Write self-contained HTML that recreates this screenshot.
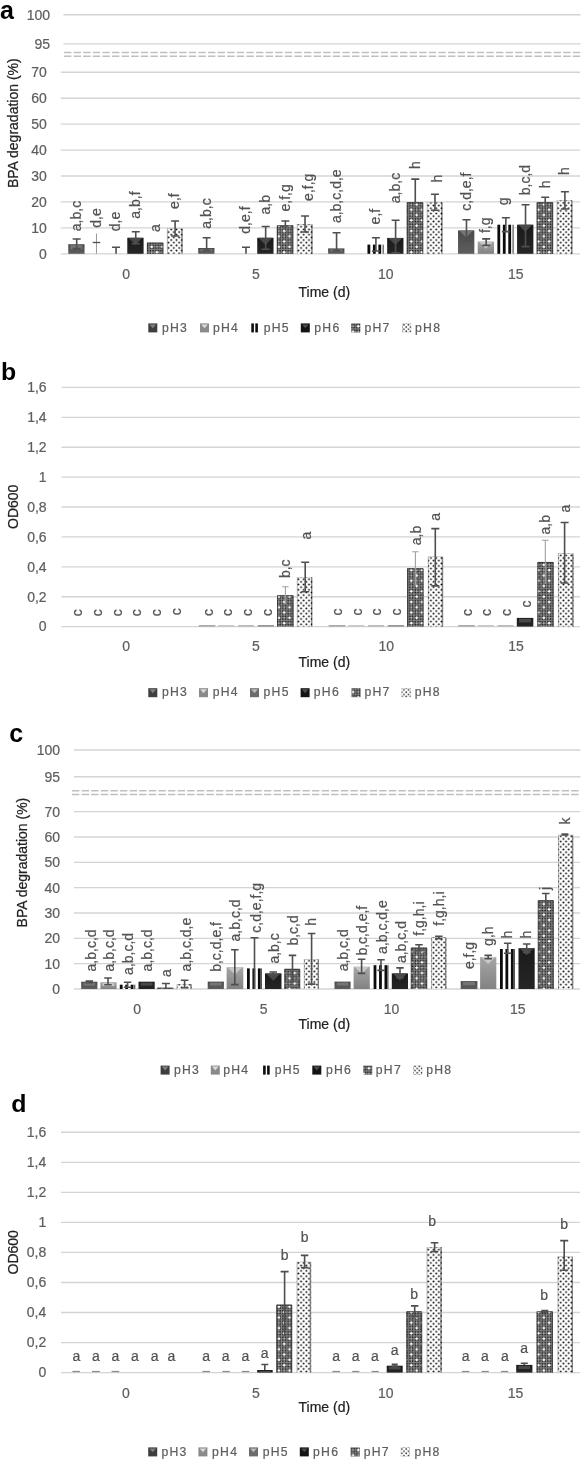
<!DOCTYPE html>
<html lang="en"><head><meta charset="utf-8"><title>BPA degradation and OD600</title>
<style>
html,body{margin:0;padding:0;background:#fff;}
svg{display:block;font-family:"Liberation Sans", sans-serif;filter:grayscale(1);}
</style></head><body>
<svg width="582" height="1461" viewBox="0 0 582 1461">
<rect width="582" height="1461" fill="#fff"/>
<defs>
<linearGradient id="g3" x1="0" y1="0" x2="0" y2="1"><stop offset="0" stop-color="#4a4a4a"/><stop offset="1" stop-color="#5e5e5e"/></linearGradient>
<linearGradient id="g4" x1="0" y1="0" x2="0" y2="1"><stop offset="0" stop-color="#a6a6a6"/><stop offset="1" stop-color="#828282"/></linearGradient>
<linearGradient id="g5" x1="0" y1="0" x2="0" y2="1"><stop offset="0" stop-color="#8a8a8a"/><stop offset="1" stop-color="#6a6a6a"/></linearGradient>
<linearGradient id="g6" x1="0" y1="0" x2="0" y2="1"><stop offset="0" stop-color="#1a1a1a"/><stop offset="1" stop-color="#262626"/></linearGradient>
<pattern id="p7" width="10.6" height="10.6" patternUnits="userSpaceOnUse" x="0.6" y="0.4">
<g fill="#141414"><circle cx="1.32" cy="1.32" r=".8"/><circle cx="3.97" cy="1.32" r=".8"/><circle cx="6.62" cy="1.32" r=".8"/><circle cx="9.27" cy="1.32" r=".8"/><circle cx="1.32" cy="3.97" r=".8"/><circle cx="3.97" cy="3.97" r=".8"/><circle cx="6.62" cy="3.97" r=".8"/><circle cx="9.27" cy="3.97" r=".8"/><circle cx="1.32" cy="6.62" r=".8"/><circle cx="3.97" cy="6.62" r=".8"/><circle cx="6.62" cy="6.62" r=".8"/><circle cx="9.27" cy="6.62" r=".8"/><circle cx="1.32" cy="9.27" r=".8"/><circle cx="3.97" cy="9.27" r=".8"/><circle cx="6.62" cy="9.27" r=".8"/><circle cx="9.27" cy="9.27" r=".8"/></g>
<g fill="#fff"><circle cx="2.65" cy="2.65" r="1.3"/><circle cx="7.95" cy="7.95" r="1.3"/></g>
<g fill="#c4c4c4"><circle cx="7.95" cy="2.65" r=".7"/><circle cx="2.65" cy="7.95" r=".7"/></g>
</pattern>
<pattern id="p8" width="5.3" height="5.3" patternUnits="userSpaceOnUse" x="0.3" y="0.2"><g fill="#000"><circle cx="1.32" cy="1.32" r=".96"/><circle cx="3.97" cy="3.97" r=".96"/></g></pattern>
<pattern id="p7s" width="2.7" height="2.7" patternUnits="userSpaceOnUse"><circle cx="1.35" cy="1.35" r=".7" fill="#e8e8e8"/></pattern>
<pattern id="p8s" width="4.4" height="4.4" patternUnits="userSpaceOnUse" x="0.3" y="0.3"><g fill="#2a2a2a"><circle cx="1.1" cy="1.1" r=".85"/><circle cx="3.3" cy="3.3" r=".85"/></g></pattern>
</defs>
<text x="0" y="19.2" font-size="25" fill="#000" font-weight="bold">a</text>
<line x1="63.5" y1="14.7" x2="580.5" y2="14.7" stroke="#d4d4d4" stroke-width="1.35"/>
<line x1="63.5" y1="43.9" x2="580.5" y2="43.9" stroke="#d4d4d4" stroke-width="1.35"/>
<line x1="64" y1="52.5" x2="580.5" y2="52.5" stroke="#c0c0c0" stroke-width="1.5" stroke-dasharray="7.4 2.2"/>
<line x1="64" y1="56.3" x2="580.5" y2="56.3" stroke="#c0c0c0" stroke-width="1.5" stroke-dasharray="7.4 2.2"/>
<line x1="60.8" y1="253.8" x2="580" y2="253.8" stroke="#d4d4d4" stroke-width="1.35"/>
<text x="46.8" y="258.65" font-size="14.0" fill="#5e5e5e" stroke="#5e5e5e" stroke-width="0.22" text-anchor="end">0</text>
<line x1="60.8" y1="227.87" x2="580" y2="227.87" stroke="#d4d4d4" stroke-width="1.35"/>
<text x="46.8" y="232.72" font-size="14.0" fill="#5e5e5e" stroke="#5e5e5e" stroke-width="0.22" text-anchor="end">10</text>
<line x1="60.8" y1="201.94" x2="580" y2="201.94" stroke="#d4d4d4" stroke-width="1.35"/>
<text x="46.8" y="206.79" font-size="14.0" fill="#5e5e5e" stroke="#5e5e5e" stroke-width="0.22" text-anchor="end">20</text>
<line x1="60.8" y1="176.01" x2="580" y2="176.01" stroke="#d4d4d4" stroke-width="1.35"/>
<text x="46.8" y="180.86" font-size="14.0" fill="#5e5e5e" stroke="#5e5e5e" stroke-width="0.22" text-anchor="end">30</text>
<line x1="60.8" y1="150.08" x2="580" y2="150.08" stroke="#d4d4d4" stroke-width="1.35"/>
<text x="46.8" y="154.93" font-size="14.0" fill="#5e5e5e" stroke="#5e5e5e" stroke-width="0.22" text-anchor="end">40</text>
<line x1="60.8" y1="124.15" x2="580" y2="124.15" stroke="#d4d4d4" stroke-width="1.35"/>
<text x="46.8" y="129.0" font-size="14.0" fill="#5e5e5e" stroke="#5e5e5e" stroke-width="0.22" text-anchor="end">50</text>
<line x1="60.8" y1="98.22" x2="580" y2="98.22" stroke="#d4d4d4" stroke-width="1.35"/>
<text x="46.8" y="103.07" font-size="14.0" fill="#5e5e5e" stroke="#5e5e5e" stroke-width="0.22" text-anchor="end">60</text>
<line x1="60.8" y1="72.29" x2="580" y2="72.29" stroke="#d4d4d4" stroke-width="1.35"/>
<text x="46.8" y="77.14" font-size="14.0" fill="#5e5e5e" stroke="#5e5e5e" stroke-width="0.22" text-anchor="end">70</text>
<text x="50" y="19.5" font-size="14.0" fill="#5e5e5e" stroke="#5e5e5e" stroke-width="0.22" text-anchor="end">100</text>
<text x="50" y="48.5" font-size="14.0" fill="#5e5e5e" stroke="#5e5e5e" stroke-width="0.22" text-anchor="end">95</text>
<text x="18.4" y="123.2" font-size="14.0" fill="#222222" stroke="#222222" stroke-width="0.22" text-anchor="middle" transform="rotate(-90 18.4 123.2)">BPA degradation (%)</text>
<text x="126.2" y="279" font-size="14.0" fill="#5e5e5e" stroke="#5e5e5e" stroke-width="0.22" text-anchor="middle">0</text>
<text x="255.8" y="279" font-size="14.0" fill="#5e5e5e" stroke="#5e5e5e" stroke-width="0.22" text-anchor="middle">5</text>
<text x="385.8" y="279" font-size="14.0" fill="#5e5e5e" stroke="#5e5e5e" stroke-width="0.22" text-anchor="middle">10</text>
<text x="515.8" y="279" font-size="14.0" fill="#5e5e5e" stroke="#5e5e5e" stroke-width="0.22" text-anchor="middle">15</text>
<text x="324.3" y="296.6" font-size="14.0" fill="#222222" stroke="#222222" stroke-width="0.22" text-anchor="middle">Time (d)</text>
<rect x="148.3" y="323.4" width="9" height="9" fill="#3e3e3e"/>
<polygon points="149.5,324.4 156.10000000000002,324.4 152.8,328.34999999999997" fill="#808080"/>
<text x="161.9" y="331.8" font-size="12.2" fill="#5e5e5e" stroke="#5e5e5e" stroke-width="0.22" letter-spacing="1.25">pH3</text>
<rect x="200" y="323.4" width="9" height="9" fill="#8a8a8a"/>
<polygon points="201.2,324.4 207.8,324.4 204.5,328.34999999999997" fill="#dadada"/>
<text x="213.0" y="331.8" font-size="12.2" fill="#5e5e5e" stroke="#5e5e5e" stroke-width="0.22" letter-spacing="1.25">pH4</text>
<rect x="251.29999999999998" y="323.4" width="2.6" height="9" fill="#0c0c0c"/><rect x="255.29999999999998" y="323.4" width="2.6" height="9" fill="#0c0c0c"/>
<text x="263.7" y="331.8" font-size="12.2" fill="#5e5e5e" stroke="#5e5e5e" stroke-width="0.22" letter-spacing="1.25">pH5</text>
<rect x="300.8" y="323.4" width="9" height="9" fill="#141414"/>
<polygon points="302.0,324.4 308.6,324.4 305.3,328.34999999999997" fill="#4c4c4c"/>
<text x="314.3" y="331.8" font-size="12.2" fill="#5e5e5e" stroke="#5e5e5e" stroke-width="0.22" letter-spacing="1.25">pH6</text>
<rect x="351.3" y="323.4" width="9" height="9" fill="#7a7a7a"/><rect x="351.3" y="323.4" width="9" height="9" fill="url(#p7)"/>
<text x="364.5" y="331.8" font-size="12.2" fill="#5e5e5e" stroke="#5e5e5e" stroke-width="0.22" letter-spacing="1.25">pH7</text>
<rect x="402.2" y="323.4" width="9" height="9" fill="#d0d0d0"/><rect x="402.7" y="323.9" width="8" height="8" fill="#fff"/><rect x="402.2" y="323.4" width="9" height="9" fill="url(#p8s)"/>
<text x="415.1" y="331.8" font-size="12.2" fill="#5e5e5e" stroke="#5e5e5e" stroke-width="0.22" letter-spacing="1.25">pH8</text>
<rect x="68.25" y="244.2" width="16.3" height="9.6" fill="url(#g3)"/>
<rect x="70.45" y="245.1" width="11.9" height="4.03" fill="#757575"/>
<path d="M76.7 239V248.6M72.7 239H80.7M72.7 248.6H80.7" stroke="#4f4f4f" stroke-width="1.6" fill="none"/>
<text x="81.03" y="231.2" font-size="14.0" fill="#525252" stroke="#525252" stroke-width="0.22" transform="rotate(-90 81.03 231.2)">a,b,c</text>
<path d="M96.48 233.5V253.8" stroke="#9a9a9a" stroke-width="1"/><path d="M92.67999999999999 242.5H100.28" stroke="#4f4f4f" stroke-width="1.3"/>
<text x="100.71" y="227.7" font-size="14.0" fill="#525252" stroke="#525252" stroke-width="0.22" transform="rotate(-90 100.71 227.7)">d,e</text>
<path d="M116.06 247.2V253.8M112.06 247.2H120.06" stroke="#4f4f4f" stroke-width="1.6" fill="none"/>
<text x="120.39" y="231.2" font-size="14.0" fill="#525252" stroke="#525252" stroke-width="0.22" transform="rotate(-90 120.39 231.2)">d,e</text>
<rect x="127.29" y="237.8" width="16.3" height="16.0" fill="url(#g6)"/>
<polygon points="128.29000000000002,237.8 142.59,237.8 135.44,244.95" fill="#484848"/>
<path d="M135.74 231.8V243.8M131.74 231.8H139.74M131.74 243.8H139.74" stroke="#4f4f4f" stroke-width="1.6" fill="none"/>
<text x="140.07" y="218.7" font-size="14.0" fill="#525252" stroke="#525252" stroke-width="0.22" transform="rotate(-90 140.07 218.7)">a,b,f</text>
<rect x="146.97" y="242.7" width="16.3" height="11.1" fill="#7e7e7e"/>
<rect x="146.97" y="242.7" width="16.3" height="11.1" fill="url(#p7)"/>
<path d="M147.37 253.8V243.1H162.87V253.8" fill="none" stroke="#2e2e2e" stroke-width="0.8"/>
<text x="159.75" y="231.9" font-size="14.0" fill="#525252" stroke="#525252" stroke-width="0.22" transform="rotate(-90 159.75 231.9)">a</text>
<rect x="166.85" y="228.3" width="15.8" height="25.5" fill="#b4b4b4"/>
<rect x="167.85" y="228.8" width="13.5" height="25.0" fill="#fff"/>
<rect x="181.35" y="228.8" width="1.3" height="25.0" fill="#8e8e8e"/>
<rect x="167.15" y="228.5" width="15.5" height="25.3" fill="url(#p8)"/>
<path d="M175.10000000000002 221V236M171.10000000000002 221H179.10000000000002M171.10000000000002 236H179.10000000000002" stroke="#4f4f4f" stroke-width="1.6" fill="none"/>
<text x="179.43" y="208.9" font-size="14.0" fill="#525252" stroke="#525252" stroke-width="0.22" transform="rotate(-90 179.43 208.9)">e,f</text>
<rect x="198.18" y="248" width="16.3" height="5.8" fill="url(#g3)"/>
<rect x="200.38" y="248.9" width="11.9" height="2.44" fill="#757575"/>
<path d="M206.63000000000002 237.8V250.4M202.63000000000002 237.8H210.63000000000002M202.63000000000002 250.4H210.63000000000002" stroke="#4f4f4f" stroke-width="1.6" fill="none"/>
<text x="210.96" y="228.7" font-size="14.0" fill="#525252" stroke="#525252" stroke-width="0.22" transform="rotate(-90 210.96 228.7)">a,b,c</text>
<path d="M245.99 247.2V253.8M241.99 247.2H249.99" stroke="#4f4f4f" stroke-width="1.6" fill="none"/>
<text x="250.32" y="233.7" font-size="14.0" fill="#525252" stroke="#525252" stroke-width="0.22" transform="rotate(-90 250.32 233.7)">d,e,f</text>
<rect x="257.22" y="237.8" width="16.3" height="16.0" fill="url(#g6)"/>
<polygon points="258.22,237.8 272.52,237.8 265.37,244.95" fill="#484848"/>
<path d="M265.67 226.5V249.3M261.67 226.5H269.67M261.67 249.3H269.67" stroke="#4f4f4f" stroke-width="1.6" fill="none"/>
<text x="270.0" y="214.5" font-size="14.0" fill="#525252" stroke="#525252" stroke-width="0.22" transform="rotate(-90 270.0 214.5)">a,b</text>
<rect x="276.9" y="225.3" width="16.3" height="28.5" fill="#7e7e7e"/>
<rect x="276.9" y="225.3" width="16.3" height="28.5" fill="url(#p7)"/>
<path d="M277.3 253.8V225.7H292.8V253.8" fill="none" stroke="#2e2e2e" stroke-width="0.8"/>
<path d="M285.35 221V229.6M281.35 221H289.35" stroke="#4f4f4f" stroke-width="1.6" fill="none"/>
<text x="289.68" y="211.5" font-size="14.0" fill="#525252" stroke="#525252" stroke-width="0.22" transform="rotate(-90 289.68 211.5)">e,f,g</text>
<rect x="296.78" y="224.1" width="15.8" height="29.7" fill="#b4b4b4"/>
<rect x="297.78" y="224.6" width="13.5" height="29.2" fill="#fff"/>
<rect x="311.28" y="224.6" width="1.3" height="29.2" fill="#8e8e8e"/>
<rect x="297.08" y="224.3" width="15.5" height="29.5" fill="url(#p8)"/>
<path d="M305.03000000000003 216V232M301.03000000000003 216H309.03000000000003M301.03000000000003 232H309.03000000000003" stroke="#4f4f4f" stroke-width="1.6" fill="none"/>
<text x="312.86" y="200.9" font-size="14.0" fill="#525252" stroke="#525252" stroke-width="0.22" transform="rotate(-90 312.86 200.9)">e,f,g</text>
<rect x="328.11" y="248.4" width="16.3" height="5.4" fill="url(#g3)"/>
<rect x="330.31" y="249.3" width="11.9" height="2.27" fill="#757575"/>
<path d="M336.56 232.7V250.6M332.56 232.7H340.56M332.56 250.6H340.56" stroke="#4f4f4f" stroke-width="1.6" fill="none"/>
<text x="340.89" y="223.1" font-size="14.0" fill="#525252" stroke="#525252" stroke-width="0.22" transform="rotate(-90 340.89 223.1)">a,b,c,d,e</text>
<rect x="367.47" y="244.6" width="16.3" height="9.2" fill="#fff"/>
<rect x="367.47" y="244.6" width="2.8" height="9.2" fill="#0c0c0c"/>
<rect x="372.92" y="244.6" width="2.8" height="9.2" fill="#0c0c0c"/>
<rect x="378.37" y="244.6" width="2.8" height="9.2" fill="#0c0c0c"/>
<rect x="382.57" y="244.6" width="1.2" height="9.2" fill="#555"/>
<path d="M375.92 237.7V251M371.92 237.7H379.92M371.92 251H379.92" stroke="#4f4f4f" stroke-width="1.6" fill="none"/>
<text x="380.25" y="224.4" font-size="14.0" fill="#525252" stroke="#525252" stroke-width="0.22" transform="rotate(-90 380.25 224.4)">e,f</text>
<rect x="387.15" y="237.9" width="16.3" height="15.9" fill="url(#g6)"/>
<polygon points="388.15,237.9 402.45,237.9 395.29999999999995,245.05" fill="#484848"/>
<path d="M395.6 220.2V252.8M391.6 220.2H399.6M391.6 252.8H399.6" stroke="#4f4f4f" stroke-width="1.6" fill="none"/>
<text x="399.93" y="203.2" font-size="14.0" fill="#525252" stroke="#525252" stroke-width="0.22" transform="rotate(-90 399.93 203.2)">a,b,c</text>
<rect x="406.83" y="202.3" width="16.3" height="51.5" fill="#7e7e7e"/>
<rect x="406.83" y="202.3" width="16.3" height="51.5" fill="url(#p7)"/>
<path d="M407.23 253.8V202.7H422.73V253.8" fill="none" stroke="#2e2e2e" stroke-width="0.8"/>
<path d="M415.28000000000003 179.1V203.8M411.28000000000003 179.1H419.28000000000003" stroke="#4f4f4f" stroke-width="1.6" fill="none"/>
<text x="419.61" y="168.9" font-size="14.0" fill="#525252" stroke="#525252" stroke-width="0.22" transform="rotate(-90 419.61 168.9)">h</text>
<rect x="426.71" y="202.1" width="15.8" height="51.7" fill="#b4b4b4"/>
<rect x="427.71" y="202.6" width="13.5" height="51.2" fill="#fff"/>
<rect x="441.21" y="202.6" width="1.3" height="51.2" fill="#8e8e8e"/>
<rect x="427.01" y="202.3" width="15.5" height="51.5" fill="url(#p8)"/>
<path d="M434.96000000000004 194.3V210.3M430.96000000000004 194.3H438.96000000000004M430.96000000000004 210.3H438.96000000000004" stroke="#4f4f4f" stroke-width="1.6" fill="none"/>
<text x="441.79" y="182.5" font-size="14.0" fill="#525252" stroke="#525252" stroke-width="0.22" transform="rotate(-90 441.79 182.5)">h</text>
<rect x="458.04" y="230.4" width="16.3" height="23.4" fill="url(#g3)"/>
<polygon points="459.04,230.4 473.34,230.4 466.19,237.54999999999998" fill="#757575"/>
<path d="M466.49 219.7V241M462.49 219.7H470.49M462.49 241H470.49" stroke="#4f4f4f" stroke-width="1.6" fill="none"/>
<text x="470.82" y="210.7" font-size="14.0" fill="#525252" stroke="#525252" stroke-width="0.22" transform="rotate(-90 470.82 210.7)">c,d,e,f</text>
<rect x="477.72" y="241.6" width="16.3" height="12.2" fill="url(#g4)"/>
<polygon points="478.72,241.6 493.02,241.6 485.87,248.74999999999997" fill="#c9c9c9"/>
<path d="M486.17 238.9V245.4M482.17 238.9H490.17M482.17 245.4H490.17" stroke="#4f4f4f" stroke-width="1.6" fill="none"/>
<text x="490.5" y="233.1" font-size="14.0" fill="#525252" stroke="#525252" stroke-width="0.22" transform="rotate(-90 490.5 233.1)">f,g</text>
<rect x="497.4" y="224.7" width="16.3" height="29.1" fill="#fff"/>
<rect x="497.4" y="224.7" width="2.8" height="29.1" fill="#0c0c0c"/>
<rect x="502.85" y="224.7" width="2.8" height="29.1" fill="#0c0c0c"/>
<rect x="508.3" y="224.7" width="2.8" height="29.1" fill="#0c0c0c"/>
<rect x="512.5" y="224.7" width="1.2" height="29.1" fill="#555"/>
<path d="M505.85 217.7V231.6M501.85 217.7H509.85M501.85 231.6H509.85" stroke="#4f4f4f" stroke-width="1.6" fill="none"/>
<text x="508.18" y="205.2" font-size="14.0" fill="#525252" stroke="#525252" stroke-width="0.22" transform="rotate(-90 508.18 205.2)">g</text>
<rect x="517.08" y="224.7" width="16.3" height="29.1" fill="url(#g6)"/>
<polygon points="518.08,224.7 532.38,224.7 525.23,231.84999999999997" fill="#484848"/>
<path d="M525.53 204.8V246.6M521.53 204.8H529.53M521.53 246.6H529.53" stroke="#4f4f4f" stroke-width="1.6" fill="none"/>
<text x="529.86" y="195.2" font-size="14.0" fill="#525252" stroke="#525252" stroke-width="0.22" transform="rotate(-90 529.86 195.2)">b,c,d</text>
<rect x="536.76" y="202.3" width="16.3" height="51.5" fill="#7e7e7e"/>
<rect x="536.76" y="202.3" width="16.3" height="51.5" fill="url(#p7)"/>
<path d="M537.16 253.8V202.7H552.66V253.8" fill="none" stroke="#2e2e2e" stroke-width="0.8"/>
<path d="M545.2099999999999 197.3V207.3M541.2099999999999 197.3H549.2099999999999" stroke="#4f4f4f" stroke-width="1.6" fill="none"/>
<text x="549.54" y="188.2" font-size="14.0" fill="#525252" stroke="#525252" stroke-width="0.22" transform="rotate(-90 549.54 188.2)">h</text>
<rect x="556.64" y="200.3" width="15.8" height="53.5" fill="#b4b4b4"/>
<rect x="557.64" y="200.8" width="13.5" height="53.0" fill="#fff"/>
<rect x="571.14" y="200.8" width="1.3" height="53.0" fill="#8e8e8e"/>
<rect x="556.94" y="200.5" width="15.5" height="53.3" fill="url(#p8)"/>
<path d="M564.89 191.8V209M560.89 191.8H568.89M560.89 209H568.89" stroke="#4f4f4f" stroke-width="1.6" fill="none"/>
<text x="569.22" y="175.0" font-size="14.0" fill="#525252" stroke="#525252" stroke-width="0.22" transform="rotate(-90 569.22 175.0)">h</text>
<text x="1.1" y="380.2" font-size="23.5" fill="#000" font-weight="bold" textLength="15.2" lengthAdjust="spacingAndGlyphs">b</text>
<line x1="61.5" y1="626.6" x2="580" y2="626.6" stroke="#d4d4d4" stroke-width="1.35"/>
<text x="46.6" y="631.45" font-size="14.0" fill="#5e5e5e" stroke="#5e5e5e" stroke-width="0.22" text-anchor="end">0</text>
<line x1="61.5" y1="596.7" x2="580" y2="596.7" stroke="#d4d4d4" stroke-width="1.35"/>
<text x="46.6" y="601.55" font-size="14.0" fill="#5e5e5e" stroke="#5e5e5e" stroke-width="0.22" text-anchor="end">0,2</text>
<line x1="61.5" y1="566.8" x2="580" y2="566.8" stroke="#d4d4d4" stroke-width="1.35"/>
<text x="46.6" y="571.65" font-size="14.0" fill="#5e5e5e" stroke="#5e5e5e" stroke-width="0.22" text-anchor="end">0,4</text>
<line x1="61.5" y1="536.9" x2="580" y2="536.9" stroke="#d4d4d4" stroke-width="1.35"/>
<text x="46.6" y="541.75" font-size="14.0" fill="#5e5e5e" stroke="#5e5e5e" stroke-width="0.22" text-anchor="end">0,6</text>
<line x1="61.5" y1="507.0" x2="580" y2="507.0" stroke="#d4d4d4" stroke-width="1.35"/>
<text x="46.6" y="511.85" font-size="14.0" fill="#5e5e5e" stroke="#5e5e5e" stroke-width="0.22" text-anchor="end">0,8</text>
<line x1="61.5" y1="477.1" x2="580" y2="477.1" stroke="#d4d4d4" stroke-width="1.35"/>
<text x="46.6" y="481.95" font-size="14.0" fill="#5e5e5e" stroke="#5e5e5e" stroke-width="0.22" text-anchor="end">1</text>
<line x1="61.5" y1="447.2" x2="580" y2="447.2" stroke="#d4d4d4" stroke-width="1.35"/>
<text x="46.6" y="452.05" font-size="14.0" fill="#5e5e5e" stroke="#5e5e5e" stroke-width="0.22" text-anchor="end">1,2</text>
<line x1="61.5" y1="417.3" x2="580" y2="417.3" stroke="#d4d4d4" stroke-width="1.35"/>
<text x="46.6" y="422.15" font-size="14.0" fill="#5e5e5e" stroke="#5e5e5e" stroke-width="0.22" text-anchor="end">1,4</text>
<line x1="61.5" y1="387.4" x2="580" y2="387.4" stroke="#d4d4d4" stroke-width="1.35"/>
<text x="46.6" y="392.25" font-size="14.0" fill="#5e5e5e" stroke="#5e5e5e" stroke-width="0.22" text-anchor="end">1,6</text>
<text x="18.4" y="506.8" font-size="14.0" fill="#222222" stroke="#222222" stroke-width="0.22" text-anchor="middle" transform="rotate(-90 18.4 506.8)">OD600</text>
<text x="126.2" y="651" font-size="14.0" fill="#5e5e5e" stroke="#5e5e5e" stroke-width="0.22" text-anchor="middle">0</text>
<text x="255.8" y="651" font-size="14.0" fill="#5e5e5e" stroke="#5e5e5e" stroke-width="0.22" text-anchor="middle">5</text>
<text x="386.2" y="651" font-size="14.0" fill="#5e5e5e" stroke="#5e5e5e" stroke-width="0.22" text-anchor="middle">10</text>
<text x="516" y="651" font-size="14.0" fill="#5e5e5e" stroke="#5e5e5e" stroke-width="0.22" text-anchor="middle">15</text>
<text x="324.3" y="667.0" font-size="14.0" fill="#222222" stroke="#222222" stroke-width="0.22" text-anchor="middle">Time (d)</text>
<rect x="148.3" y="688.2" width="9" height="9" fill="#3e3e3e"/>
<polygon points="149.5,689.2 156.10000000000002,689.2 152.8,693.1500000000001" fill="#808080"/>
<text x="161.9" y="696.3" font-size="12.2" fill="#5e5e5e" stroke="#5e5e5e" stroke-width="0.22" letter-spacing="1.25">pH3</text>
<rect x="199" y="688.2" width="9" height="9" fill="#8a8a8a"/>
<polygon points="200.2,689.2 206.8,689.2 203.5,693.1500000000001" fill="#dadada"/>
<text x="212.7" y="696.3" font-size="12.2" fill="#5e5e5e" stroke="#5e5e5e" stroke-width="0.22" letter-spacing="1.25">pH4</text>
<rect x="250" y="688.2" width="9" height="9" fill="#6c6c6c"/>
<polygon points="251.2,689.2 257.8,689.2 254.5,693.1500000000001" fill="#bcbcbc"/>
<text x="263.6" y="696.3" font-size="12.2" fill="#5e5e5e" stroke="#5e5e5e" stroke-width="0.22" letter-spacing="1.25">pH5</text>
<rect x="300.6" y="688.2" width="9" height="9" fill="#141414"/>
<polygon points="301.8,689.2 308.40000000000003,689.2 305.1,693.1500000000001" fill="#4c4c4c"/>
<text x="313.8" y="696.3" font-size="12.2" fill="#5e5e5e" stroke="#5e5e5e" stroke-width="0.22" letter-spacing="1.25">pH6</text>
<rect x="351.6" y="688.2" width="9" height="9" fill="#7a7a7a"/><rect x="351.6" y="688.2" width="9" height="9" fill="url(#p7)"/>
<text x="364.4" y="696.3" font-size="12.2" fill="#5e5e5e" stroke="#5e5e5e" stroke-width="0.22" letter-spacing="1.25">pH7</text>
<rect x="401.6" y="688.2" width="9" height="9" fill="#d0d0d0"/><rect x="402.1" y="688.7" width="8" height="8" fill="#fff"/><rect x="401.6" y="688.2" width="9" height="9" fill="url(#p8s)"/>
<text x="414.7" y="696.3" font-size="12.2" fill="#5e5e5e" stroke="#5e5e5e" stroke-width="0.22" letter-spacing="1.25">pH8</text>
<text x="82.33" y="616.2" font-size="14.0" fill="#525252" stroke="#525252" stroke-width="0.22" transform="rotate(-90 82.33 616.2)">c</text>
<text x="102.23" y="616.2" font-size="14.0" fill="#525252" stroke="#525252" stroke-width="0.22" transform="rotate(-90 102.23 616.2)">c</text>
<text x="121.63" y="616.2" font-size="14.0" fill="#525252" stroke="#525252" stroke-width="0.22" transform="rotate(-90 121.63 616.2)">c</text>
<text x="141.33" y="616.2" font-size="14.0" fill="#525252" stroke="#525252" stroke-width="0.22" transform="rotate(-90 141.33 616.2)">c</text>
<text x="160.73" y="616.2" font-size="14.0" fill="#525252" stroke="#525252" stroke-width="0.22" transform="rotate(-90 160.73 616.2)">c</text>
<text x="180.63" y="615.2" font-size="14.0" fill="#525252" stroke="#525252" stroke-width="0.22" transform="rotate(-90 180.63 615.2)">c</text>
<rect x="198.7" y="625.1" width="16.7" height="1.5" fill="#a2a2a2"/>
<rect x="218.1" y="625.1" width="16.2" height="1.5" fill="#c4c4c4"/>
<rect x="238.1" y="625.1" width="15.9" height="1.5" fill="#b4b4b4"/>
<rect x="257.7" y="625.1" width="16.3" height="1.5" fill="#8c8c8c"/>
<rect x="328.7" y="625.1" width="16.7" height="1.5" fill="#a2a2a2"/>
<rect x="348.1" y="625.1" width="16.2" height="1.5" fill="#c4c4c4"/>
<rect x="368.1" y="625.1" width="15.9" height="1.5" fill="#b4b4b4"/>
<rect x="387.7" y="625.1" width="16.3" height="1.5" fill="#8c8c8c"/>
<rect x="458.2" y="625.1" width="16.7" height="1.5" fill="#a2a2a2"/>
<rect x="477.6" y="625.1" width="16.2" height="1.5" fill="#c4c4c4"/>
<rect x="497.5" y="625.1" width="16.0" height="1.5" fill="#b4b4b4"/>
<text x="212.83" y="616.0" font-size="14.0" fill="#525252" stroke="#525252" stroke-width="0.22" transform="rotate(-90 212.83 616.0)">c</text>
<text x="232.23" y="616.0" font-size="14.0" fill="#525252" stroke="#525252" stroke-width="0.22" transform="rotate(-90 232.23 616.0)">c</text>
<text x="251.63" y="616.0" font-size="14.0" fill="#525252" stroke="#525252" stroke-width="0.22" transform="rotate(-90 251.63 616.0)">c</text>
<text x="271.63" y="616.0" font-size="14.0" fill="#525252" stroke="#525252" stroke-width="0.22" transform="rotate(-90 271.63 616.0)">c</text>
<text x="342.33" y="615.5" font-size="14.0" fill="#525252" stroke="#525252" stroke-width="0.22" transform="rotate(-90 342.33 615.5)">c</text>
<text x="361.63" y="615.5" font-size="14.0" fill="#525252" stroke="#525252" stroke-width="0.22" transform="rotate(-90 361.63 615.5)">c</text>
<text x="381.43" y="615.5" font-size="14.0" fill="#525252" stroke="#525252" stroke-width="0.22" transform="rotate(-90 381.43 615.5)">c</text>
<text x="401.33" y="615.5" font-size="14.0" fill="#525252" stroke="#525252" stroke-width="0.22" transform="rotate(-90 401.33 615.5)">c</text>
<text x="471.73" y="615.9" font-size="14.0" fill="#525252" stroke="#525252" stroke-width="0.22" transform="rotate(-90 471.73 615.9)">c</text>
<text x="491.23" y="615.9" font-size="14.0" fill="#525252" stroke="#525252" stroke-width="0.22" transform="rotate(-90 491.23 615.9)">c</text>
<text x="511.13" y="615.9" font-size="14.0" fill="#525252" stroke="#525252" stroke-width="0.22" transform="rotate(-90 511.13 615.9)">c</text>
<text x="530.83" y="607.5" font-size="14.0" fill="#525252" stroke="#525252" stroke-width="0.22" transform="rotate(-90 530.83 607.5)">c</text>
<rect x="277.2" y="595.4" width="16.2" height="31.2" fill="#7e7e7e"/>
<rect x="277.2" y="595.4" width="16.2" height="31.2" fill="url(#p7)"/>
<path d="M277.6 626.6V595.8H293.0V626.6" fill="none" stroke="#2e2e2e" stroke-width="0.8"/>
<path d="M285.4 586.7V604.1M282.15 586.7H288.65" stroke="#a0a0a0" stroke-width="1.1" fill="none"/>
<text x="289.63" y="578.1" font-size="14.0" fill="#525252" stroke="#525252" stroke-width="0.22" transform="rotate(-90 289.63 578.1)">b,c</text>
<rect x="296.8" y="577.0" width="15.5" height="49.6" fill="#b4b4b4"/>
<rect x="297.8" y="577.5" width="13.2" height="49.1" fill="#fff"/>
<rect x="311.0" y="577.5" width="1.3" height="49.1" fill="#8e8e8e"/>
<rect x="297.1" y="577.2" width="15.2" height="49.4" fill="url(#p8)"/>
<path d="M305.2 562.3V591.7M301.2 562.3H309.2M301.2 591.7H309.2" stroke="#4f4f4f" stroke-width="1.6" fill="none"/>
<text x="310.63" y="539.5" font-size="14.0" fill="#525252" stroke="#525252" stroke-width="0.22" transform="rotate(-90 310.63 539.5)">a</text>
<rect x="407.2" y="568.4" width="16.2" height="58.2" fill="#7e7e7e"/>
<rect x="407.2" y="568.4" width="16.2" height="58.2" fill="url(#p7)"/>
<path d="M407.6 626.6V568.8H423.0V626.6" fill="none" stroke="#2e2e2e" stroke-width="0.8"/>
<path d="M415.4 551.7V585M412.15 551.7H418.65" stroke="#a0a0a0" stroke-width="1.1" fill="none"/>
<text x="420.63" y="545.2" font-size="14.0" fill="#525252" stroke="#525252" stroke-width="0.22" transform="rotate(-90 420.63 545.2)">a,b</text>
<rect x="427.8" y="556.5" width="15.3" height="70.1" fill="#b4b4b4"/>
<rect x="428.8" y="557.0" width="13.0" height="69.6" fill="#fff"/>
<rect x="441.8" y="557.0" width="1.3" height="69.6" fill="#8e8e8e"/>
<rect x="428.1" y="556.7" width="15.0" height="69.9" fill="url(#p8)"/>
<path d="M435.3 528.6V585.9M431.3 528.6H439.3M431.3 585.9H439.3" stroke="#4f4f4f" stroke-width="1.6" fill="none"/>
<text x="440.23" y="520.8" font-size="14.0" fill="#525252" stroke="#525252" stroke-width="0.22" transform="rotate(-90 440.23 520.8)">a</text>
<rect x="516.8" y="617.9" width="16.5" height="8.7" fill="url(#g6)"/>
<rect x="519.0" y="618.8" width="12.1" height="3.65" fill="#484848"/>
<rect x="537.5" y="562" width="16.0" height="64.6" fill="#7e7e7e"/>
<rect x="537.5" y="562" width="16.0" height="64.6" fill="url(#p7)"/>
<path d="M537.9 626.6V562.4H553.1V626.6" fill="none" stroke="#2e2e2e" stroke-width="0.8"/>
<path d="M545.3 540.2V584M542.05 540.2H548.55" stroke="#a0a0a0" stroke-width="1.1" fill="none"/>
<text x="550.23" y="534.5" font-size="14.0" fill="#525252" stroke="#525252" stroke-width="0.22" transform="rotate(-90 550.23 534.5)">a,b</text>
<rect x="557.9" y="553.3" width="15.6" height="73.3" fill="#b4b4b4"/>
<rect x="558.9" y="553.8" width="13.3" height="72.8" fill="#fff"/>
<rect x="572.2" y="553.8" width="1.3" height="72.8" fill="#8e8e8e"/>
<rect x="558.2" y="553.5" width="15.3" height="73.1" fill="url(#p8)"/>
<path d="M564.6 522.5V583M560.6 522.5H568.6M560.6 583H568.6" stroke="#4f4f4f" stroke-width="1.6" fill="none"/>
<text x="570.13" y="512.4" font-size="14.0" fill="#525252" stroke="#525252" stroke-width="0.22" transform="rotate(-90 570.13 512.4)">a</text>
<text x="9.2" y="741.5" font-size="25" fill="#000" font-weight="bold">c</text>
<line x1="74" y1="750" x2="580.5" y2="750" stroke="#d4d4d4" stroke-width="1.35"/>
<line x1="74" y1="776.7" x2="580.5" y2="776.7" stroke="#d4d4d4" stroke-width="1.35"/>
<line x1="72" y1="790.7" x2="580.5" y2="790.7" stroke="#c0c0c0" stroke-width="1.5" stroke-dasharray="7.4 2.2"/>
<line x1="72" y1="794.4" x2="580.5" y2="794.4" stroke="#c0c0c0" stroke-width="1.5" stroke-dasharray="7.4 2.2"/>
<line x1="74" y1="989.0" x2="580" y2="989.0" stroke="#d4d4d4" stroke-width="1.35"/>
<text x="60" y="993.85" font-size="14.0" fill="#5e5e5e" stroke="#5e5e5e" stroke-width="0.22" text-anchor="end">0</text>
<line x1="74" y1="963.67" x2="580" y2="963.67" stroke="#d4d4d4" stroke-width="1.35"/>
<text x="60" y="968.52" font-size="14.0" fill="#5e5e5e" stroke="#5e5e5e" stroke-width="0.22" text-anchor="end">10</text>
<line x1="74" y1="938.34" x2="580" y2="938.34" stroke="#d4d4d4" stroke-width="1.35"/>
<text x="60" y="943.19" font-size="14.0" fill="#5e5e5e" stroke="#5e5e5e" stroke-width="0.22" text-anchor="end">20</text>
<line x1="74" y1="913.01" x2="580" y2="913.01" stroke="#d4d4d4" stroke-width="1.35"/>
<text x="60" y="917.86" font-size="14.0" fill="#5e5e5e" stroke="#5e5e5e" stroke-width="0.22" text-anchor="end">30</text>
<line x1="74" y1="887.68" x2="580" y2="887.68" stroke="#d4d4d4" stroke-width="1.35"/>
<text x="60" y="892.53" font-size="14.0" fill="#5e5e5e" stroke="#5e5e5e" stroke-width="0.22" text-anchor="end">40</text>
<line x1="74" y1="862.35" x2="580" y2="862.35" stroke="#d4d4d4" stroke-width="1.35"/>
<text x="60" y="867.2" font-size="14.0" fill="#5e5e5e" stroke="#5e5e5e" stroke-width="0.22" text-anchor="end">50</text>
<line x1="74" y1="837.02" x2="580" y2="837.02" stroke="#d4d4d4" stroke-width="1.35"/>
<text x="60" y="841.87" font-size="14.0" fill="#5e5e5e" stroke="#5e5e5e" stroke-width="0.22" text-anchor="end">60</text>
<line x1="74" y1="811.69" x2="580" y2="811.69" stroke="#d4d4d4" stroke-width="1.35"/>
<text x="60" y="816.54" font-size="14.0" fill="#5e5e5e" stroke="#5e5e5e" stroke-width="0.22" text-anchor="end">70</text>
<text x="60" y="754.9" font-size="14.0" fill="#5e5e5e" stroke="#5e5e5e" stroke-width="0.22" text-anchor="end">100</text>
<text x="60" y="781.6" font-size="14.0" fill="#5e5e5e" stroke="#5e5e5e" stroke-width="0.22" text-anchor="end">95</text>
<text x="27.3" y="862.6" font-size="14.0" fill="#222222" stroke="#222222" stroke-width="0.22" text-anchor="middle" transform="rotate(-90 27.3 862.6)">BPA degradation (%)</text>
<text x="137.2" y="1014" font-size="14.0" fill="#5e5e5e" stroke="#5e5e5e" stroke-width="0.22" text-anchor="middle">0</text>
<text x="263.7" y="1014" font-size="14.0" fill="#5e5e5e" stroke="#5e5e5e" stroke-width="0.22" text-anchor="middle">5</text>
<text x="391.5" y="1014" font-size="14.0" fill="#5e5e5e" stroke="#5e5e5e" stroke-width="0.22" text-anchor="middle">10</text>
<text x="517.7" y="1014" font-size="14.0" fill="#5e5e5e" stroke="#5e5e5e" stroke-width="0.22" text-anchor="middle">15</text>
<text x="324.3" y="1029" font-size="14.0" fill="#222222" stroke="#222222" stroke-width="0.22" text-anchor="middle">Time (d)</text>
<rect x="160.6" y="1065.6" width="9" height="9" fill="#3e3e3e"/>
<polygon points="161.79999999999998,1066.6 168.4,1066.6 165.1,1070.55" fill="#808080"/>
<text x="174.0" y="1073.5" font-size="12.2" fill="#5e5e5e" stroke="#5e5e5e" stroke-width="0.22" letter-spacing="1.25">pH3</text>
<rect x="210.8" y="1065.6" width="9" height="9" fill="#8a8a8a"/>
<polygon points="212.0,1066.6 218.60000000000002,1066.6 215.3,1070.55" fill="#dadada"/>
<text x="223.2" y="1073.5" font-size="12.2" fill="#5e5e5e" stroke="#5e5e5e" stroke-width="0.22" letter-spacing="1.25">pH4</text>
<rect x="263.1" y="1065.6" width="2.6" height="9" fill="#0c0c0c"/><rect x="267.1" y="1065.6" width="2.6" height="9" fill="#0c0c0c"/>
<text x="274.7" y="1073.5" font-size="12.2" fill="#5e5e5e" stroke="#5e5e5e" stroke-width="0.22" letter-spacing="1.25">pH5</text>
<rect x="312.3" y="1065.6" width="9" height="9" fill="#141414"/>
<polygon points="313.5,1066.6 320.1,1066.6 316.8,1070.55" fill="#4c4c4c"/>
<text x="326.0" y="1073.5" font-size="12.2" fill="#5e5e5e" stroke="#5e5e5e" stroke-width="0.22" letter-spacing="1.25">pH6</text>
<rect x="363.2" y="1065.6" width="9" height="9" fill="#7a7a7a"/><rect x="363.2" y="1065.6" width="9" height="9" fill="url(#p7)"/>
<text x="375.8" y="1073.5" font-size="12.2" fill="#5e5e5e" stroke="#5e5e5e" stroke-width="0.22" letter-spacing="1.25">pH7</text>
<rect x="413.3" y="1065.6" width="9" height="9" fill="#d0d0d0"/><rect x="413.8" y="1066.1" width="8" height="8" fill="#fff"/><rect x="413.3" y="1065.6" width="9" height="9" fill="url(#p8s)"/>
<text x="426.2" y="1073.5" font-size="12.2" fill="#5e5e5e" stroke="#5e5e5e" stroke-width="0.22" letter-spacing="1.25">pH8</text>
<rect x="81.2" y="981.7" width="16.2" height="7.3" fill="url(#g3)"/>
<rect x="83.4" y="982.6" width="11.8" height="3.07" fill="#757575"/>
<path d="M89.3 981V982.6M85.55 981H93.05M85.55 982.6H93.05" stroke="#4f4f4f" stroke-width="1.6" fill="none"/>
<text x="95.53" y="971.4" font-size="14.0" fill="#525252" stroke="#525252" stroke-width="0.22" transform="rotate(-90 95.53 971.4)">a,b,c,d</text>
<rect x="100.4" y="982.2" width="16.2" height="6.8" fill="url(#g4)"/>
<rect x="102.6" y="983.1" width="11.8" height="2.86" fill="#c9c9c9"/>
<path d="M108 978V984.7M104.25 978H111.75M104.25 984.7H111.75" stroke="#4f4f4f" stroke-width="1.6" fill="none"/>
<text x="114.03" y="971.4" font-size="14.0" fill="#525252" stroke="#525252" stroke-width="0.22" transform="rotate(-90 114.03 971.4)">a,b,c,d</text>
<rect x="119.8" y="984.7" width="15.5" height="4.3" fill="#fff"/>
<rect x="119.8" y="984.7" width="2.8" height="4.3" fill="#0c0c0c"/>
<rect x="125.25" y="984.7" width="2.8" height="4.3" fill="#0c0c0c"/>
<rect x="130.7" y="984.7" width="2.8" height="4.3" fill="#0c0c0c"/>
<rect x="134.1" y="984.7" width="1.2" height="4.3" fill="#555"/>
<path d="M127.6 982.2V987.2M123.85 982.2H131.35M123.85 987.2H131.35" stroke="#4f4f4f" stroke-width="1.6" fill="none"/>
<text x="133.43" y="974.9" font-size="14.0" fill="#525252" stroke="#525252" stroke-width="0.22" transform="rotate(-90 133.43 974.9)">a,b,c,d</text>
<rect x="138.5" y="981.7" width="16.2" height="7.3" fill="url(#g6)"/>
<rect x="140.7" y="982.6" width="11.8" height="3.07" fill="#484848"/>
<text x="152.13" y="971.4" font-size="14.0" fill="#525252" stroke="#525252" stroke-width="0.22" transform="rotate(-90 152.13 971.4)">a,b,c,d</text>
<rect x="157.2" y="987.8" width="16.2" height="1.2" fill="#7e7e7e"/>
<rect x="157.2" y="987.8" width="16.2" height="1.2" fill="url(#p7)"/>
<path d="M157.6 989.0V988.2H173.0V989.0" fill="none" stroke="#2e2e2e" stroke-width="0.8"/>
<path d="M165.9 983.5V989.0M161.9 983.5H169.9" stroke="#4f4f4f" stroke-width="1.6" fill="none"/>
<text x="171.33" y="976.9" font-size="14.0" fill="#525252" stroke="#525252" stroke-width="0.22" transform="rotate(-90 171.33 976.9)">a</text>
<rect x="176.6" y="984.0" width="15.1" height="5.0" fill="#b4b4b4"/>
<rect x="177.6" y="984.5" width="12.8" height="4.5" fill="#fff"/>
<rect x="190.4" y="984.5" width="1.3" height="4.5" fill="#8e8e8e"/>
<rect x="176.9" y="984.2" width="14.8" height="4.8" fill="url(#p8)"/>
<path d="M184.6 980.2V987.8M180.85 980.2H188.35M180.85 987.8H188.35" stroke="#4f4f4f" stroke-width="1.6" fill="none"/>
<text x="190.63" y="971.4" font-size="14.0" fill="#525252" stroke="#525252" stroke-width="0.22" transform="rotate(-90 190.63 971.4)">a,b,c,d,e</text>
<rect x="207.7" y="981.6" width="16.2" height="7.4" fill="url(#g3)"/>
<rect x="209.9" y="982.5" width="11.8" height="3.11" fill="#757575"/>
<text x="220.83" y="971.8" font-size="14.0" fill="#525252" stroke="#525252" stroke-width="0.22" transform="rotate(-90 220.83 971.8)">b,c,d,e,f</text>
<rect x="226.6" y="967.2" width="16.7" height="21.8" fill="url(#g4)"/>
<polygon points="227.6,967.2 242.3,967.2 234.95,974.5500000000001" fill="#c9c9c9"/>
<path d="M234.8 949.7V984.6M231.05 949.7H238.55M231.05 984.6H238.55" stroke="#4f4f4f" stroke-width="1.6" fill="none"/>
<text x="240.03" y="941.4" font-size="14.0" fill="#525252" stroke="#525252" stroke-width="0.22" transform="rotate(-90 240.03 941.4)">a,b,c,d</text>
<rect x="247" y="968.4" width="15" height="20.6" fill="#fff"/>
<rect x="247.0" y="968.4" width="2.8" height="20.6" fill="#0c0c0c"/>
<rect x="252.45" y="968.4" width="2.8" height="20.6" fill="#0c0c0c"/>
<rect x="257.9" y="968.4" width="2.8" height="20.6" fill="#0c0c0c"/>
<rect x="260.8" y="968.4" width="1.2" height="20.6" fill="#555"/>
<path d="M254.5 937.8V989.0M250.5 937.8H258.5" stroke="#4f4f4f" stroke-width="1.6" fill="none"/>
<text x="260.63" y="932.7" font-size="14.0" fill="#525252" stroke="#525252" stroke-width="0.22" transform="rotate(-90 260.63 932.7)">c,d,e,f,g</text>
<rect x="265" y="973.4" width="16.5" height="15.6" fill="url(#g6)"/>
<polygon points="266,973.4 280.5,973.4 273.25,980.65" fill="#484848"/>
<path d="M273.25 972V974.8M269.5 972H277.0M269.5 974.8H277.0" stroke="#4f4f4f" stroke-width="1.6" fill="none"/>
<text x="278.83" y="963.6" font-size="14.0" fill="#525252" stroke="#525252" stroke-width="0.22" transform="rotate(-90 278.83 963.6)">a,b,c</text>
<rect x="284.4" y="968.9" width="15.7" height="20.1" fill="#7e7e7e"/>
<rect x="284.4" y="968.9" width="15.7" height="20.1" fill="url(#p7)"/>
<path d="M284.8 989.0V969.3H299.7V989.0" fill="none" stroke="#2e2e2e" stroke-width="0.8"/>
<path d="M292.5 955.4V982.4M288.75 955.4H296.25" stroke="#4f4f4f" stroke-width="1.6" fill="none"/>
<text x="298.03" y="945.6" font-size="14.0" fill="#525252" stroke="#525252" stroke-width="0.22" transform="rotate(-90 298.03 945.6)">b,c,d</text>
<rect x="303.8" y="959.0" width="15.2" height="30.0" fill="#b4b4b4"/>
<rect x="304.8" y="959.5" width="12.9" height="29.5" fill="#fff"/>
<rect x="317.7" y="959.5" width="1.3" height="29.5" fill="#8e8e8e"/>
<rect x="304.1" y="959.2" width="14.9" height="29.8" fill="url(#p8)"/>
<path d="M311.6 933.5V984.1M307.85 933.5H315.35M307.85 984.1H315.35" stroke="#4f4f4f" stroke-width="1.6" fill="none"/>
<text x="316.43" y="925.7" font-size="14.0" fill="#525252" stroke="#525252" stroke-width="0.22" transform="rotate(-90 316.43 925.7)">h</text>
<rect x="334.5" y="981.6" width="16.1" height="7.4" fill="url(#g3)"/>
<rect x="336.7" y="982.5" width="11.7" height="3.11" fill="#757575"/>
<text x="347.53" y="971.3" font-size="14.0" fill="#525252" stroke="#525252" stroke-width="0.22" transform="rotate(-90 347.53 971.3)">a,b,c,d</text>
<rect x="353.6" y="966.7" width="16.2" height="22.3" fill="url(#g4)"/>
<polygon points="354.6,966.7 368.8,966.7 361.70000000000005,973.8000000000001" fill="#c9c9c9"/>
<path d="M361.6 959.2V973.4M357.85 959.2H365.35M357.85 973.4H365.35" stroke="#4f4f4f" stroke-width="1.6" fill="none"/>
<text x="366.73" y="955.6" font-size="14.0" fill="#525252" stroke="#525252" stroke-width="0.22" transform="rotate(-90 366.73 955.6)">b,c,d,e,f</text>
<rect x="373.6" y="965.2" width="14.9" height="23.8" fill="#fff"/>
<rect x="373.6" y="965.2" width="2.8" height="23.8" fill="#0c0c0c"/>
<rect x="379.05" y="965.2" width="2.8" height="23.8" fill="#0c0c0c"/>
<rect x="384.5" y="965.2" width="2.8" height="23.8" fill="#0c0c0c"/>
<rect x="387.3" y="965.2" width="1.2" height="23.8" fill="#555"/>
<path d="M381 959.7V970.4M377.25 959.7H384.75M377.25 970.4H384.75" stroke="#4f4f4f" stroke-width="1.6" fill="none"/>
<text x="386.63" y="953.9" font-size="14.0" fill="#525252" stroke="#525252" stroke-width="0.22" transform="rotate(-90 386.63 953.9)">a,b,c,d,e</text>
<rect x="391.8" y="973.4" width="16.2" height="15.6" fill="url(#g6)"/>
<polygon points="392.8,973.4 407,973.4 399.9,980.5" fill="#484848"/>
<path d="M400 967.9V977.6M396.25 967.9H403.75M396.25 977.6H403.75" stroke="#4f4f4f" stroke-width="1.6" fill="none"/>
<text x="405.83" y="963.1" font-size="14.0" fill="#525252" stroke="#525252" stroke-width="0.22" transform="rotate(-90 405.83 963.1)">a,b,c,d</text>
<rect x="410.9" y="947.7" width="16.2" height="41.3" fill="#7e7e7e"/>
<rect x="410.9" y="947.7" width="16.2" height="41.3" fill="url(#p7)"/>
<path d="M411.3 989.0V948.1H426.7V989.0" fill="none" stroke="#2e2e2e" stroke-width="0.8"/>
<path d="M419 944.7V950.7M415.25 944.7H422.75M415.25 950.7H422.75" stroke="#4f4f4f" stroke-width="1.6" fill="none"/>
<text x="424.03" y="935.7" font-size="14.0" fill="#525252" stroke="#525252" stroke-width="0.22" transform="rotate(-90 424.03 935.7)">f,g,h,i</text>
<rect x="431.1" y="937.1" width="15.2" height="51.9" fill="#b4b4b4"/>
<rect x="432.1" y="937.6" width="12.9" height="51.4" fill="#fff"/>
<rect x="445.0" y="937.6" width="1.3" height="51.4" fill="#8e8e8e"/>
<rect x="431.4" y="937.3" width="14.9" height="51.7" fill="url(#p8)"/>
<path d="M438.8 936.2V938.6M435.05 936.2H442.55M435.05 938.6H442.55" stroke="#4f4f4f" stroke-width="1.6" fill="none"/>
<text x="443.93" y="925.7" font-size="14.0" fill="#525252" stroke="#525252" stroke-width="0.22" transform="rotate(-90 443.93 925.7)">f,g,h,i</text>
<rect x="460.7" y="981.1" width="16.7" height="7.9" fill="url(#g3)"/>
<rect x="462.9" y="982.0" width="12.3" height="3.32" fill="#757575"/>
<text x="474.23" y="969.1" font-size="14.0" fill="#525252" stroke="#525252" stroke-width="0.22" transform="rotate(-90 474.23 969.1)">e,f,g</text>
<rect x="480.1" y="957" width="16.2" height="32.0" fill="url(#g4)"/>
<polygon points="481.1,957 495.3,957 488.20000000000005,964.1" fill="#c9c9c9"/>
<path d="M488.2 955.4V958.8M484.45 955.4H491.95M484.45 958.8H491.95" stroke="#4f4f4f" stroke-width="1.6" fill="none"/>
<text x="492.93" y="945.9" font-size="14.0" fill="#525252" stroke="#525252" stroke-width="0.22" transform="rotate(-90 492.93 945.9)">g,h</text>
<rect x="500" y="949" width="15" height="40.0" fill="#fff"/>
<rect x="500.0" y="949" width="2.8" height="40.0" fill="#0c0c0c"/>
<rect x="505.45" y="949" width="2.8" height="40.0" fill="#0c0c0c"/>
<rect x="510.9" y="949" width="2.8" height="40.0" fill="#0c0c0c"/>
<rect x="513.8" y="949" width="1.2" height="40.0" fill="#555"/>
<path d="M507.7 943.2V953.2M503.95 943.2H511.45M503.95 953.2H511.45" stroke="#4f4f4f" stroke-width="1.6" fill="none"/>
<text x="512.23" y="938.4" font-size="14.0" fill="#525252" stroke="#525252" stroke-width="0.22" transform="rotate(-90 512.23 938.4)">h</text>
<rect x="518.5" y="948.2" width="16.2" height="40.8" fill="url(#g6)"/>
<polygon points="519.5,948.2 533.7,948.2 526.6,955.3000000000001" fill="#484848"/>
<path d="M526.7 944V952.4M522.95 944H530.45M522.95 952.4H530.45" stroke="#4f4f4f" stroke-width="1.6" fill="none"/>
<text x="531.43" y="938.4" font-size="14.0" fill="#525252" stroke="#525252" stroke-width="0.22" transform="rotate(-90 531.43 938.4)">h</text>
<rect x="537.9" y="900.3" width="15.7" height="88.7" fill="#7e7e7e"/>
<rect x="537.9" y="900.3" width="15.7" height="88.7" fill="url(#p7)"/>
<path d="M538.3 989.0V900.7H553.2V989.0" fill="none" stroke="#2e2e2e" stroke-width="0.8"/>
<path d="M545.8 893.5V906.5M542.05 893.5H549.55" stroke="#4f4f4f" stroke-width="1.6" fill="none"/>
<text x="550.23" y="889.9" font-size="14.0" fill="#525252" stroke="#525252" stroke-width="0.22" transform="rotate(-90 550.23 889.9)">j</text>
<rect x="558.0" y="834.7" width="15.2" height="154.3" fill="#b4b4b4"/>
<rect x="559.0" y="835.2" width="12.9" height="153.8" fill="#fff"/>
<rect x="571.9" y="835.2" width="1.3" height="153.8" fill="#8e8e8e"/>
<rect x="558.3" y="834.9" width="14.9" height="154.1" fill="url(#p8)"/>
<text x="570.23" y="824.6" font-size="14.0" fill="#525252" stroke="#525252" stroke-width="0.22" transform="rotate(-90 570.23 824.6)">k</text>
<rect x="561.4" y="833.3" width="7" height="2.5" fill="#505050"/>
<text x="11.2" y="1111.6" font-size="23.5" fill="#000" font-weight="bold" textLength="15.2" lengthAdjust="spacingAndGlyphs">d</text>
<line x1="61" y1="1372.6" x2="580" y2="1372.6" stroke="#d4d4d4" stroke-width="1.35"/>
<text x="46.3" y="1377.45" font-size="14.0" fill="#5e5e5e" stroke="#5e5e5e" stroke-width="0.22" text-anchor="end">0</text>
<line x1="61" y1="1342.56" x2="580" y2="1342.56" stroke="#d4d4d4" stroke-width="1.35"/>
<text x="46.3" y="1347.41" font-size="14.0" fill="#5e5e5e" stroke="#5e5e5e" stroke-width="0.22" text-anchor="end">0,2</text>
<line x1="61" y1="1312.52" x2="580" y2="1312.52" stroke="#d4d4d4" stroke-width="1.35"/>
<text x="46.3" y="1317.37" font-size="14.0" fill="#5e5e5e" stroke="#5e5e5e" stroke-width="0.22" text-anchor="end">0,4</text>
<line x1="61" y1="1282.48" x2="580" y2="1282.48" stroke="#d4d4d4" stroke-width="1.35"/>
<text x="46.3" y="1287.33" font-size="14.0" fill="#5e5e5e" stroke="#5e5e5e" stroke-width="0.22" text-anchor="end">0,6</text>
<line x1="61" y1="1252.44" x2="580" y2="1252.44" stroke="#d4d4d4" stroke-width="1.35"/>
<text x="46.3" y="1257.29" font-size="14.0" fill="#5e5e5e" stroke="#5e5e5e" stroke-width="0.22" text-anchor="end">0,8</text>
<line x1="61" y1="1222.4" x2="580" y2="1222.4" stroke="#d4d4d4" stroke-width="1.35"/>
<text x="46.3" y="1227.25" font-size="14.0" fill="#5e5e5e" stroke="#5e5e5e" stroke-width="0.22" text-anchor="end">1</text>
<line x1="61" y1="1192.36" x2="580" y2="1192.36" stroke="#d4d4d4" stroke-width="1.35"/>
<text x="46.3" y="1197.21" font-size="14.0" fill="#5e5e5e" stroke="#5e5e5e" stroke-width="0.22" text-anchor="end">1,2</text>
<line x1="61" y1="1162.32" x2="580" y2="1162.32" stroke="#d4d4d4" stroke-width="1.35"/>
<text x="46.3" y="1167.17" font-size="14.0" fill="#5e5e5e" stroke="#5e5e5e" stroke-width="0.22" text-anchor="end">1,4</text>
<line x1="61" y1="1132.28" x2="580" y2="1132.28" stroke="#d4d4d4" stroke-width="1.35"/>
<text x="46.3" y="1137.13" font-size="14.0" fill="#5e5e5e" stroke="#5e5e5e" stroke-width="0.22" text-anchor="end">1,6</text>
<text x="18.2" y="1252.3" font-size="14.0" fill="#222222" stroke="#222222" stroke-width="0.22" text-anchor="middle" transform="rotate(-90 18.2 1252.3)">OD600</text>
<text x="125.8" y="1398" font-size="14.0" fill="#5e5e5e" stroke="#5e5e5e" stroke-width="0.22" text-anchor="middle">0</text>
<text x="255.8" y="1398" font-size="14.0" fill="#5e5e5e" stroke="#5e5e5e" stroke-width="0.22" text-anchor="middle">5</text>
<text x="385.8" y="1398" font-size="14.0" fill="#5e5e5e" stroke="#5e5e5e" stroke-width="0.22" text-anchor="middle">10</text>
<text x="515.6" y="1398" font-size="14.0" fill="#5e5e5e" stroke="#5e5e5e" stroke-width="0.22" text-anchor="middle">15</text>
<text x="324.3" y="1412.3" font-size="14.0" fill="#222222" stroke="#222222" stroke-width="0.22" text-anchor="middle">Time (d)</text>
<rect x="148.2" y="1447.4" width="9" height="9" fill="#3e3e3e"/>
<polygon points="149.39999999999998,1448.4 156.0,1448.4 152.7,1452.3500000000001" fill="#808080"/>
<text x="161.4" y="1455.9" font-size="12.2" fill="#5e5e5e" stroke="#5e5e5e" stroke-width="0.22" letter-spacing="1.25">pH3</text>
<rect x="198.4" y="1447.4" width="9" height="9" fill="#8a8a8a"/>
<polygon points="199.6,1448.4 206.20000000000002,1448.4 202.9,1452.3500000000001" fill="#dadada"/>
<text x="212.1" y="1455.9" font-size="12.2" fill="#5e5e5e" stroke="#5e5e5e" stroke-width="0.22" letter-spacing="1.25">pH4</text>
<rect x="249" y="1447.4" width="9" height="9" fill="#6c6c6c"/>
<polygon points="250.2,1448.4 256.8,1448.4 253.5,1452.3500000000001" fill="#bcbcbc"/>
<text x="262.7" y="1455.9" font-size="12.2" fill="#5e5e5e" stroke="#5e5e5e" stroke-width="0.22" letter-spacing="1.25">pH5</text>
<rect x="299.8" y="1447.4" width="9" height="9" fill="#141414"/>
<polygon points="301.0,1448.4 307.6,1448.4 304.3,1452.3500000000001" fill="#4c4c4c"/>
<text x="313.1" y="1455.9" font-size="12.2" fill="#5e5e5e" stroke="#5e5e5e" stroke-width="0.22" letter-spacing="1.25">pH6</text>
<rect x="350.6" y="1447.4" width="9" height="9" fill="#7a7a7a"/><rect x="350.6" y="1447.4" width="9" height="9" fill="url(#p7)"/>
<text x="363.7" y="1455.9" font-size="12.2" fill="#5e5e5e" stroke="#5e5e5e" stroke-width="0.22" letter-spacing="1.25">pH7</text>
<rect x="400.8" y="1447.4" width="9" height="9" fill="#d0d0d0"/><rect x="401.3" y="1447.9" width="8" height="8" fill="#fff"/><rect x="400.8" y="1447.4" width="9" height="9" fill="url(#p8s)"/>
<text x="414.4" y="1455.9" font-size="12.2" fill="#5e5e5e" stroke="#5e5e5e" stroke-width="0.22" letter-spacing="1.25">pH8</text>
<text x="76.4" y="1361" font-size="14.0" fill="#525252" stroke="#525252" stroke-width="0.22" text-anchor="middle">a</text>
<text x="95.9" y="1361" font-size="14.0" fill="#525252" stroke="#525252" stroke-width="0.22" text-anchor="middle">a</text>
<text x="115.4" y="1361" font-size="14.0" fill="#525252" stroke="#525252" stroke-width="0.22" text-anchor="middle">a</text>
<text x="135" y="1361" font-size="14.0" fill="#525252" stroke="#525252" stroke-width="0.22" text-anchor="middle">a</text>
<text x="154.7" y="1361" font-size="14.0" fill="#525252" stroke="#525252" stroke-width="0.22" text-anchor="middle">a</text>
<text x="171.5" y="1361" font-size="14.0" fill="#525252" stroke="#525252" stroke-width="0.22" text-anchor="middle">a</text>
<text x="206.2" y="1361" font-size="14.0" fill="#525252" stroke="#525252" stroke-width="0.22" text-anchor="middle">a</text>
<text x="225.6" y="1361" font-size="14.0" fill="#525252" stroke="#525252" stroke-width="0.22" text-anchor="middle">a</text>
<text x="245.3" y="1361" font-size="14.0" fill="#525252" stroke="#525252" stroke-width="0.22" text-anchor="middle">a</text>
<text x="264.7" y="1358.2" font-size="14.0" fill="#525252" stroke="#525252" stroke-width="0.22" text-anchor="middle">a</text>
<text x="336.2" y="1360.8" font-size="14.0" fill="#525252" stroke="#525252" stroke-width="0.22" text-anchor="middle">a</text>
<text x="355.6" y="1360.8" font-size="14.0" fill="#525252" stroke="#525252" stroke-width="0.22" text-anchor="middle">a</text>
<text x="374.8" y="1360.8" font-size="14.0" fill="#525252" stroke="#525252" stroke-width="0.22" text-anchor="middle">a</text>
<text x="394.7" y="1355" font-size="14.0" fill="#525252" stroke="#525252" stroke-width="0.22" text-anchor="middle">a</text>
<text x="465.6" y="1360.8" font-size="14.0" fill="#525252" stroke="#525252" stroke-width="0.22" text-anchor="middle">a</text>
<text x="484.8" y="1360.8" font-size="14.0" fill="#525252" stroke="#525252" stroke-width="0.22" text-anchor="middle">a</text>
<text x="504.8" y="1360.8" font-size="14.0" fill="#525252" stroke="#525252" stroke-width="0.22" text-anchor="middle">a</text>
<text x="524.2" y="1352.7" font-size="14.0" fill="#525252" stroke="#525252" stroke-width="0.22" text-anchor="middle">a</text>
<rect x="72.4" y="1370.8999999999999" width="7.5" height="1.2" fill="#8a8a8a"/>
<rect x="92" y="1370.8999999999999" width="7.8" height="1.2" fill="#8a8a8a"/>
<rect x="111.6" y="1370.8999999999999" width="7.6" height="1.2" fill="#8a8a8a"/>
<rect x="202.4" y="1370.8999999999999" width="7.6" height="1.2" fill="#8a8a8a"/>
<rect x="222.4" y="1370.8999999999999" width="7.4" height="1.2" fill="#8a8a8a"/>
<rect x="241.8" y="1370.8999999999999" width="7.5" height="1.2" fill="#8a8a8a"/>
<rect x="332.4" y="1370.8999999999999" width="7.5" height="1.2" fill="#8a8a8a"/>
<rect x="352.2" y="1370.8999999999999" width="7.2" height="1.2" fill="#8a8a8a"/>
<rect x="371.6" y="1370.8999999999999" width="7.2" height="1.2" fill="#8a8a8a"/>
<rect x="461.9" y="1370.8999999999999" width="7.5" height="1.2" fill="#8a8a8a"/>
<rect x="481.6" y="1370.8999999999999" width="7.2" height="1.2" fill="#8a8a8a"/>
<rect x="501" y="1370.8999999999999" width="7.2" height="1.2" fill="#8a8a8a"/>
<rect x="257.2" y="1370" width="15.5" height="2.6" fill="url(#g6)"/>
<rect x="259.4" y="1370.9" width="11.1" height="1.09" fill="#484848"/>
<path d="M264.8 1364.5V1370M261.3 1364.5H268.3" stroke="#4f4f4f" stroke-width="1.6" fill="none"/>
<rect x="276.4" y="1304.7" width="15.7" height="67.9" fill="#7e7e7e"/>
<rect x="276.4" y="1304.7" width="15.7" height="67.9" fill="url(#p7)"/>
<path d="M276.8 1372.6V1305.1H291.7V1372.6" fill="none" stroke="#2e2e2e" stroke-width="0.8"/>
<path d="M284.6 1271.6V1336M280.6 1271.6H288.6" stroke="#4f4f4f" stroke-width="1.6" fill="none"/>
<text x="284.6" y="1259.9" font-size="14.0" fill="#525252" stroke="#525252" stroke-width="0.22" text-anchor="middle">b</text>
<rect x="296.6" y="1261.7" width="14.5" height="110.9" fill="#b4b4b4"/>
<rect x="297.6" y="1262.2" width="12.2" height="110.4" fill="#fff"/>
<rect x="309.8" y="1262.2" width="1.3" height="110.4" fill="#8e8e8e"/>
<rect x="296.9" y="1261.9" width="14.2" height="110.7" fill="url(#p8)"/>
<path d="M304.6 1255.4V1267.6M300.85 1255.4H308.35M300.85 1267.6H308.35" stroke="#4f4f4f" stroke-width="1.6" fill="none"/>
<text x="304.6" y="1241.7" font-size="14.0" fill="#525252" stroke="#525252" stroke-width="0.22" text-anchor="middle">b</text>
<rect x="386.7" y="1365.7" width="16.0" height="6.9" fill="url(#g6)"/>
<rect x="388.9" y="1366.6" width="11.6" height="2.9" fill="#484848"/>
<path d="M394.7 1364.4V1366.4M391.7 1364.4H397.7M391.7 1366.4H397.7" stroke="#4f4f4f" stroke-width="1.6" fill="none"/>
<rect x="406.4" y="1311.4" width="15.7" height="61.2" fill="#7e7e7e"/>
<rect x="406.4" y="1311.4" width="15.7" height="61.2" fill="url(#p7)"/>
<path d="M406.8 1372.6V1311.8H421.7V1372.6" fill="none" stroke="#2e2e2e" stroke-width="0.8"/>
<path d="M414.7 1305.9V1316.6M410.95 1305.9H418.45M410.95 1316.6H418.45" stroke="#4f4f4f" stroke-width="1.6" fill="none"/>
<text x="414.2" y="1298.9" font-size="14.0" fill="#525252" stroke="#525252" stroke-width="0.22" text-anchor="middle">b</text>
<rect x="426.6" y="1247.1" width="15.1" height="125.5" fill="#b4b4b4"/>
<rect x="427.6" y="1247.6" width="12.8" height="125.0" fill="#fff"/>
<rect x="440.4" y="1247.6" width="1.3" height="125.0" fill="#8e8e8e"/>
<rect x="426.9" y="1247.3" width="14.8" height="125.3" fill="url(#p8)"/>
<path d="M434.6 1242.8V1251.6M430.85 1242.8H438.35M430.85 1251.6H438.35" stroke="#4f4f4f" stroke-width="1.6" fill="none"/>
<text x="432.2" y="1225.7" font-size="14.0" fill="#525252" stroke="#525252" stroke-width="0.22" text-anchor="middle">b</text>
<rect x="516.2" y="1364.9" width="16.2" height="7.7" fill="url(#g6)"/>
<rect x="518.4" y="1365.8" width="11.8" height="3.23" fill="#484848"/>
<path d="M524.3 1363.2V1365M520.8 1363.2H527.8" stroke="#4f4f4f" stroke-width="1.6" fill="none"/>
<rect x="536.7" y="1311.4" width="16.1" height="61.2" fill="#7e7e7e"/>
<rect x="536.7" y="1311.4" width="16.1" height="61.2" fill="url(#p7)"/>
<path d="M537.1 1372.6V1311.8H552.4V1372.6" fill="none" stroke="#2e2e2e" stroke-width="0.8"/>
<path d="M544.8 1310.6V1312.2M541.3 1310.6H548.3M541.3 1312.2H548.3" stroke="#4f4f4f" stroke-width="1.6" fill="none"/>
<text x="544.1" y="1299.7" font-size="14.0" fill="#525252" stroke="#525252" stroke-width="0.22" text-anchor="middle">b</text>
<rect x="557.5" y="1256.4" width="15.5" height="116.2" fill="#b4b4b4"/>
<rect x="558.5" y="1256.9" width="13.2" height="115.7" fill="#fff"/>
<rect x="571.7" y="1256.9" width="1.3" height="115.7" fill="#8e8e8e"/>
<rect x="557.8" y="1256.6" width="15.2" height="116.0" fill="url(#p8)"/>
<path d="M564.2 1240.6V1270.3M560.2 1240.6H568.2M560.2 1270.3H568.2" stroke="#4f4f4f" stroke-width="1.6" fill="none"/>
<text x="564.1" y="1228.6" font-size="14.0" fill="#525252" stroke="#525252" stroke-width="0.22" text-anchor="middle">b</text>
</svg>
</body></html>
